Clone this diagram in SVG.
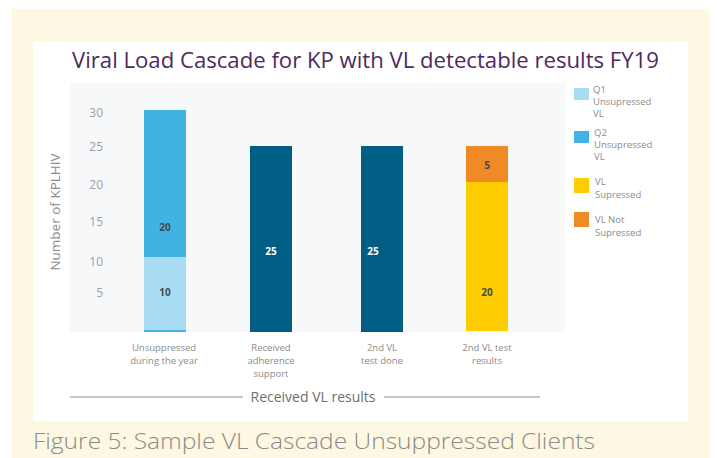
<svg xmlns="http://www.w3.org/2000/svg" width="717" height="458" viewBox="0 0 717 458">
<style>
.ax{font-family:"Open Sans","Liberation Sans",sans-serif;font-size:12px;fill:#a0a0a0}
.cat{font-family:"Open Sans","Liberation Sans",sans-serif;font-size:9.5px;fill:#8c8c8c;text-anchor:middle}
.leg{font-family:"Open Sans","Liberation Sans",sans-serif;font-size:9.5px;fill:#8c8c8c}
.val{font-family:"Open Sans","Liberation Sans",sans-serif;font-size:10px;font-weight:bold;text-anchor:middle}
</style>
<rect x="0" y="0" width="717" height="458" fill="#ffffff"/>
<rect x="12" y="9" width="697" height="449" fill="#fef8e2"/>
<rect x="33" y="41" width="655" height="380" fill="#ffffff"/>
<text x="72" y="68" font-family="Open Sans, Liberation Sans, sans-serif" font-size="22" fill="#4e2a5e" textLength="587" lengthAdjust="spacingAndGlyphs">Viral Load Cascade for KP with VL detectable results FY19</text>
<rect id="plot" x="70" y="83" width="495" height="249" fill="#f7f8fa"/>
<g id="yaxis">
<text class="ax" x="103" y="117" text-anchor="end">30</text>
<text class="ax" x="103" y="151" text-anchor="end">25</text>
<text class="ax" x="103" y="189" text-anchor="end">20</text>
<text class="ax" x="103" y="226" text-anchor="end">15</text>
<text class="ax" x="103" y="266" text-anchor="end">10</text>
<text class="ax" x="103" y="297" text-anchor="end">5</text>
<text x="0" y="0" transform="translate(60,212) rotate(-90)" text-anchor="middle" font-family="Open Sans, Liberation Sans, sans-serif" font-size="13.5" fill="#8c8c8c">Number of KPLHIV</text>
</g>
<g id="bar1">
<rect x="144" y="110" width="42" height="147" fill="#41b3e3"/>
<rect x="144" y="257" width="42" height="73" fill="#a8dcf2"/>
<rect x="144" y="330" width="42" height="2" fill="#41b3e3"/>
<text class="val" x="165" y="231" fill="#444b55">20</text>
<text class="val" x="165" y="296" fill="#444b55">10</text>
</g>
<g id="bar2">
<rect x="250" y="146" width="42" height="186" fill="#005e84"/>
<text class="val" x="271" y="255" fill="#ffffff">25</text>
</g>
<g id="bar3">
<rect x="361" y="146" width="42" height="186" fill="#005e84"/>
<text class="val" x="373" y="255" fill="#ffffff">25</text>
</g>
<g id="bar4">
<rect x="466" y="146" width="42" height="36" fill="#f08a24"/>
<rect x="466" y="182" width="42" height="149" fill="#fdcd00"/>
<text class="val" x="487" y="169" fill="#444b55">5</text>
<text class="val" x="487" y="296" fill="#444b55">20</text>
</g>
<g id="categories">
<text class="cat" x="164" y="351">Unsuppressed</text>
<text class="cat" x="164" y="364">during the year</text>
<text class="cat" x="271" y="351">Received</text>
<text class="cat" x="271" y="364">adherence</text>
<text class="cat" x="271" y="377">support</text>
<text class="cat" x="382" y="351">2nd VL</text>
<text class="cat" x="382" y="364">test done</text>
<text class="cat" x="487" y="351">2nd VL test</text>
<text class="cat" x="487" y="364">results</text>
</g>
<g id="connectors">
<line x1="70" y1="397" x2="243" y2="397" stroke="#8c8c8c" stroke-width="1"/>
<line x1="384" y1="397" x2="540" y2="397" stroke="#8c8c8c" stroke-width="1"/>
</g>
<text x="313" y="402" text-anchor="middle" font-family="Open Sans, Liberation Sans, sans-serif" font-size="14" fill="#6e6e6e">Received VL results</text>
<g id="legend">
<rect x="574" y="88" width="15" height="12" fill="#a8dcf2"/>
<text class="leg" x="593" y="93">Q1</text>
<text class="leg" x="593" y="105">Unsupressed</text>
<text class="leg" x="593" y="117">VL</text>
<rect x="574" y="131" width="15" height="12" fill="#41b3e3"/>
<text class="leg" x="594" y="136">Q2</text>
<text class="leg" x="594" y="148">Unsupressed</text>
<text class="leg" x="594" y="160">VL</text>
<rect x="574" y="178" width="15" height="15" fill="#fdcd00"/>
<text class="leg" x="595" y="185">VL</text>
<text class="leg" x="595" y="198">Supressed</text>
<rect x="574" y="212" width="15" height="15" fill="#f08a24"/>
<text class="leg" x="595" y="223">VL Not</text>
<text class="leg" x="595" y="236">Supressed</text>
</g>
<text x="33" y="449" font-family="Open Sans, Lato, Liberation Sans, sans-serif" font-weight="300" font-size="22" fill="#8a8a8a" textLength="562" lengthAdjust="spacingAndGlyphs">Figure 5: Sample VL Cascade Unsuppressed Clients</text>
</svg>
